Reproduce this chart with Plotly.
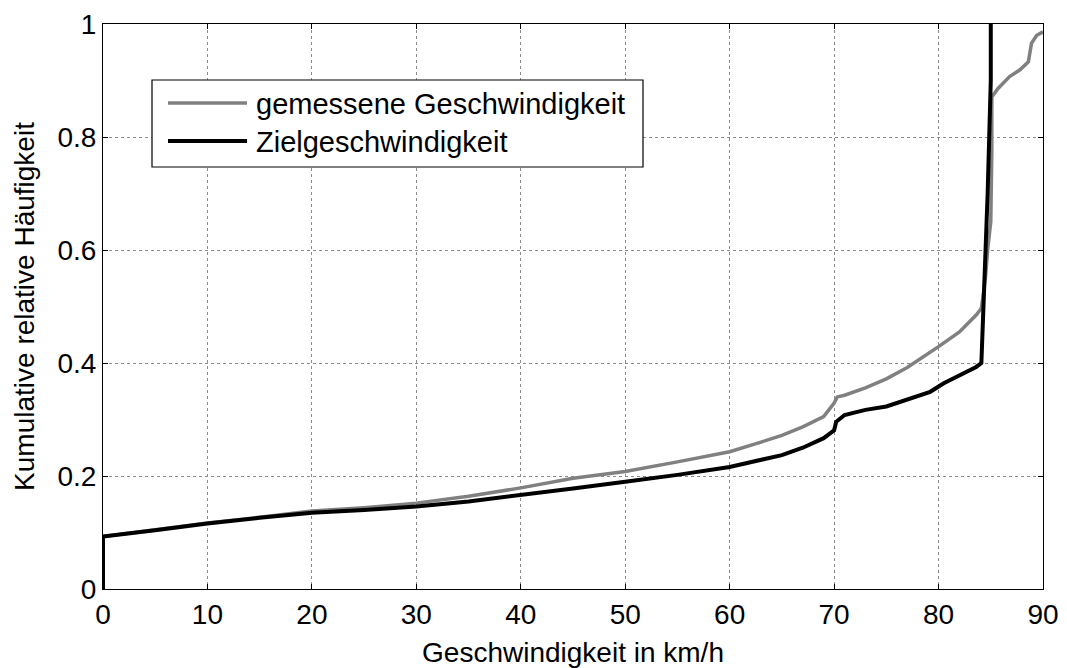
import plotly.graph_objects as go

# Measured speed (gemessene Geschwindigkeit)
gem_x = [0, 0, 5, 10, 15, 20, 25, 30, 35, 40, 45, 50, 55, 60, 63, 65, 67, 68, 69, 70,
         70.3, 71, 73, 75, 77, 80, 82, 83.6, 84.1, 84.3, 84.5, 84.7, 85.0, 85.1, 85.1,
         85.7, 86.8, 87.8, 88.6, 88.9, 89.4, 90]
gem_y = [0, 0.093, 0.105, 0.117, 0.127, 0.138, 0.144, 0.152, 0.164, 0.179, 0.196, 0.208,
         0.225, 0.243, 0.260, 0.272, 0.287, 0.296, 0.305, 0.329, 0.340, 0.343, 0.356,
         0.372, 0.392, 0.429, 0.455, 0.485, 0.497, 0.524, 0.553, 0.600, 0.650, 0.774,
         0.871, 0.886, 0.907, 0.919, 0.933, 0.966, 0.980, 0.986]

# Target speed (Zielgeschwindigkeit)
ziel_x = [0, 0, 5, 10, 15, 20, 25, 30, 35, 40, 45, 50, 55, 60, 63, 65, 67, 68, 69, 70,
          70.2, 71, 73, 75, 76.5, 78, 79.2, 80.5, 82.4, 83.6, 84.1, 84.2, 84.3, 84.5,
          84.7, 85.0, 85.0]
ziel_y = [0, 0.093, 0.104, 0.116, 0.126, 0.135, 0.140, 0.146, 0.155, 0.166, 0.178, 0.190,
          0.202, 0.216, 0.228, 0.237, 0.250, 0.258, 0.267, 0.281, 0.296, 0.308, 0.317,
          0.323, 0.332, 0.340, 0.349, 0.364, 0.382, 0.393, 0.400, 0.453, 0.494, 0.580,
          0.700, 0.900, 1.000]

x_ticks = [0, 10, 20, 30, 40, 50, 60, 70, 80, 90]
y_ticks = [0, 0.2, 0.4, 0.6, 0.8, 1]
y_tick_labels = ["0", "0.2", "0.4", "0.6", "0.8", "1"]
series_names = ["gemessene Geschwindigkeit", "Zielgeschwindigkeit"]
series_colors = ["#808080", "#000000"]

FONT = "Liberation Sans, Arial, sans-serif"
FS = 28

fig = go.Figure()
fig.add_trace(go.Scatter(x=gem_x, y=gem_y, mode="lines", name=series_names[0],
                         line=dict(color=series_colors[0], width=3.5), showlegend=False))
fig.add_trace(go.Scatter(x=ziel_x, y=ziel_y, mode="lines", name=series_names[1],
                         line=dict(color=series_colors[1], width=4), showlegend=False))

axis_common = dict(
    showline=True, linecolor="black", linewidth=1, mirror="ticks",
    ticks="inside", ticklen=5, tickcolor="black", tickwidth=1,
    showgrid=True, gridcolor="#8c8c8c", gridwidth=1, griddash="dot",
    zeroline=False, tickfont=dict(family=FONT, size=FS, color="black"),
    automargin=False,
)

fig.update_xaxes(range=[0, 90], tickvals=x_ticks, ticktext=[str(v) for v in x_ticks],
                 title=dict(text="Geschwindigkeit in km/h", font=dict(family=FONT, size=FS, color="black"), standoff=14),
                 **axis_common)
fig.update_yaxes(range=[0, 1], tickvals=y_ticks, ticktext=y_tick_labels,
                 title=dict(text="Kumulative relative Häufigkeit", font=dict(family=FONT, size=FS, color="black"), standoff=14),
                 **axis_common)

# Legend (drawn as box + sample lines + labels, in paper coordinates)
L, R, T, B = 103, 1043, 24, 589
W, H = R - L, B - T
px = lambda v: (v - L) / W
py = lambda v: (B - v) / H

fig.add_shape(type="rect", xref="paper", yref="paper",
              x0=px(152), x1=px(643), y0=py(167), y1=py(80),
              line=dict(color="black", width=1.2), fillcolor="white", layer="above")
for i, (yy, name, col, w) in enumerate([(103, series_names[0], series_colors[0], 3.5),
                                         (141, series_names[1], series_colors[1], 4)]):
    fig.add_shape(type="line", xref="paper", yref="paper",
                  x0=px(168), x1=px(247), y0=py(yy), y1=py(yy),
                  line=dict(color=col, width=w), layer="above")
    fig.add_annotation(xref="paper", yref="paper", x=px(254), y=py(yy + 1),
                       text=name, showarrow=False, xanchor="left", yanchor="middle",
                       font=dict(family=FONT, size=29, color="black"))

fig.update_layout(
    width=1067, height=668,
    margin=dict(l=L, r=1067 - R, t=T, b=668 - B, autoexpand=False),
    paper_bgcolor="white", plot_bgcolor="white",
    font=dict(family=FONT, size=FS, color="black"),
)

fig.write_html("out.html")
